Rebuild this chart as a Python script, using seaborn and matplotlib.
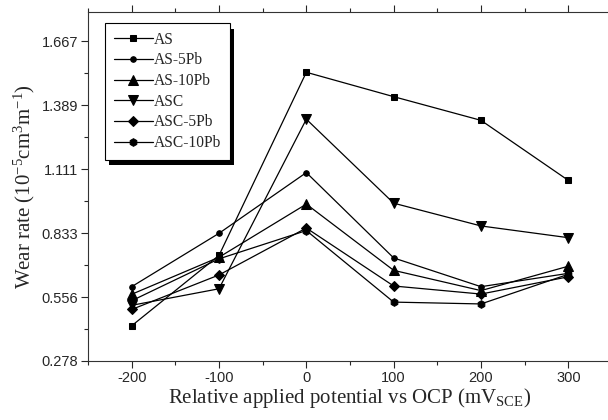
import numpy as np
import pandas as pd
import matplotlib
matplotlib.use("Agg")
import matplotlib.pyplot as plt
import matplotlib.patheffects as pe
import seaborn as sns

# potentials (mV vs OCP) and wear rates (10^-5 cm^3 m^-1)
potential = [-200, -100, 0, 100, 200, 300]
as_base = [0.431, 0.737, 1.533, 1.427, 1.324, 1.063]
as_5pb = [0.601, 0.833, 1.097, 0.726, 0.601, 0.659]
as_10pb = [0.568, 0.729, 0.960, 0.672, 0.584, 0.690]
asc = [0.520, 0.592, 1.329, 0.964, 0.865, 0.814]
asc_5pb = [0.502, 0.652, 0.856, 0.604, 0.569, 0.644]
asc_10pb = [0.540, 0.722, 0.845, 0.534, 0.526, 0.655]

series_names = ["AS", "AS-5Pb", "AS-10Pb", "ASC", "ASC-5Pb", "ASC-10Pb"]
series_values = [as_base, as_5pb, as_10pb, asc, asc_5pb, asc_10pb]
yticks = [0.278, 0.556, 0.833, 1.111, 1.389, 1.667]
xticks = [-200, -100, 0, 100, 200, 300]

markers = ["s", "o", "^", "v", "D", "h"]
msizes = [4.5, 4.0, 6.5, 6.5, 5.5, 5.5]

df = pd.DataFrame({
    "potential": np.tile(potential, len(series_names)),
    "wear": np.concatenate(series_values),
    "alloy": np.repeat(series_names, len(potential)),
})

sns.set_style("ticks")
plt.rcParams["font.family"] = ["Liberation Sans", "DejaVu Sans"]
plt.rcParams["mathtext.fontset"] = "custom"
plt.rcParams["mathtext.rm"] = "Liberation Serif"
plt.rcParams["mathtext.it"] = "Liberation Serif:italic"

fig = plt.figure(figsize=(6.08, 4.2), dpi=100)
ax = fig.add_axes([88 / 608, 59 / 420, 524 / 608, 349 / 420])

for name, m, ms in zip(series_names, markers, msizes):
    sub = df[df["alloy"] == name]
    sns.lineplot(data=sub, x="potential", y="wear", ax=ax, color="black",
                 marker=m, markersize=ms, markeredgecolor="black",
                 linewidth=0.9, label=name)

ax.set_xlim(-250, 350)
ax.set_ylim(0.278, 1.795)
ax.set_xticks(xticks)
ax.set_xticklabels([str(t) for t in xticks])
ax.set_xticks([-250, -150, -50, 50, 150, 250], minor=True)
ax.set_yticks(yticks)
ax.set_yticklabels([f"{t:.3f}" for t in yticks])
ax.set_yticks([(a + b) / 2 for a, b in zip(yticks[:-1], yticks[1:])], minor=True)

for s in ax.spines.values():
    s.set_linewidth(0.8)
    s.set_color("#333333")
ax.tick_params(which="major", direction="out", length=5, width=0.8,
               labelsize=10.5, top=False, right=False, pad=2)
ax.tick_params(which="minor", direction="out", length=3, width=0.8,
               top=False, right=False)
ax.tick_params(axis="x", which="both", top=True)
ax.xaxis.set_tick_params(which="major", labeltop=False)

ax.set_xlabel("Relative applied potential vs OCP (mV$_{\\rm SCE}$)",
              family="Liberation Serif", fontsize=15, labelpad=1)
ax.set_ylabel("Wear rate (10$^{-5}$cm$^3$m$^{-1}$)",
              family="Liberation Serif", fontsize=15, labelpad=3)

leg = ax.legend(loc="upper left", bbox_to_anchor=(0.033, 0.968),
                prop={"family": "Liberation Serif", "size": 11.2},
                frameon=True, fancybox=False, framealpha=1.0,
                facecolor="white", handlelength=2.5,
                handletextpad=0.1, labelspacing=0.3, borderpad=0.55,
                borderaxespad=0)
frame = leg.get_frame()
frame.set_edgecolor("black")
frame.set_linewidth(0.8)
frame.set_path_effects([
    pe.SimplePatchShadow(offset=(3, -4), shadow_rgbFace="black", alpha=1.0),
    pe.Normal(),
])

fig.savefig("out.png", dpi=100)
